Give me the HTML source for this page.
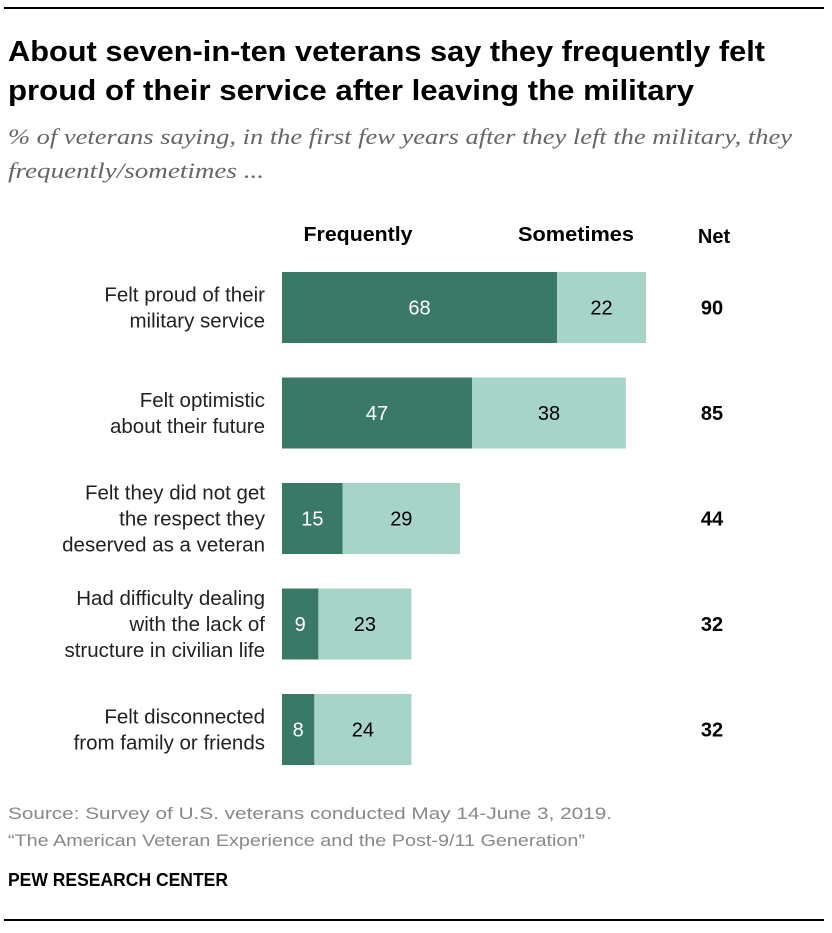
<!DOCTYPE html>
<html><head><meta charset="utf-8"><style>
body{margin:0;background:#fff;}
svg text{font-family:"Liberation Sans",sans-serif;}
</style></head><body>
<svg width="832" height="928" viewBox="0 0 832 928" xmlns="http://www.w3.org/2000/svg">
<rect x="0" y="0" width="832" height="928" fill="#fff"/>
<rect x="4" y="7" width="820" height="2" fill="#000"/>
<text x="8" y="61" font-size="29" font-weight="bold" textLength="757" lengthAdjust="spacingAndGlyphs" style="font-family:'Liberation Sans Narrow','Liberation Sans',sans-serif">About seven-in-ten veterans say they frequently felt</text>
<text x="8" y="100" font-size="29" font-weight="bold" textLength="686" lengthAdjust="spacingAndGlyphs" style="font-family:'Liberation Sans Narrow','Liberation Sans',sans-serif">proud of their service after leaving the military</text>
<text x="8" y="144" font-size="22" font-style="italic" fill="#666" textLength="784" lengthAdjust="spacingAndGlyphs" style="font-family:'Liberation Serif',serif">% of veterans saying, in the first few years after they left the military, they</text>
<text x="8" y="178" font-size="22" font-style="italic" fill="#666" textLength="256" lengthAdjust="spacingAndGlyphs" style="font-family:'Liberation Serif',serif">frequently/sometimes ...</text>
<text x="358" y="241" font-size="20" font-weight="bold" text-anchor="middle" textLength="109" lengthAdjust="spacingAndGlyphs">Frequently</text>
<text x="576" y="241" font-size="20" font-weight="bold" text-anchor="middle" textLength="116" lengthAdjust="spacingAndGlyphs">Sometimes</text>
<text x="714" y="243" font-size="20" font-weight="bold" text-anchor="middle">Net</text>
<g id="bars"></g>
<text x="8" y="819" font-size="17" fill="#888" textLength="604" lengthAdjust="spacingAndGlyphs">Source: Survey of U.S. veterans conducted May 14-June 3, 2019.</text>
<text x="8" y="846" font-size="17" fill="#888" textLength="577" lengthAdjust="spacingAndGlyphs">“The American Veteran Experience and the Post-9/11 Generation”</text>
<text x="8" y="886" font-size="18" font-weight="bold" textLength="220" lengthAdjust="spacingAndGlyphs">PEW RESEARCH CENTER</text>
<rect x="4" y="919" width="820" height="2" fill="#000"/>
</svg>
<script>
const categories = [
  ["Felt proud of their","military service"],
  ["Felt optimistic","about their future"],
  ["Felt they did not get","the respect they","deserved as a veteran"],
  ["Had difficulty dealing","with the lack of","structure in civilian life"],
  ["Felt disconnected","from family or friends"]
];
const frequently = [68, 47, 15, 9, 8];
const sometimes = [22, 38, 29, 23, 24];
const net = [90, 85, 44, 32, 32];

const NS = "http://www.w3.org/2000/svg";
const g = document.getElementById("bars");
const x0 = 282, scale = 4.045;
const xs = v => v * scale;
const rowTop = i => 272 + i * 105.5;
const barH = 71;
function mk(tag, attrs){const e=document.createElementNS(NS,tag);for(const k in attrs)e.setAttribute(k,attrs[k]);g.appendChild(e);return e;}
categories.forEach((lines, i) => {
  const y = rowTop(i), cy = y + barH/2;
  const f = mk("rect",{x:x0,y:y,width:xs(frequently[i]),height:barH,fill:"#3a7868"});
  
  
  const s = mk("rect",{x:x0+xs(frequently[i]),y:y,width:xs(sometimes[i]),height:barH,fill:"#a6d4c9"});
  
  
  const ft = mk("text",{x:x0+xs(frequently[i])/2,y:cy+7,"font-size":20,fill:"#fff","text-anchor":"middle"});
  ft.textContent = frequently[i];
  
  
  const st = mk("text",{x:x0+xs(frequently[i])+xs(sometimes[i])/2,y:cy+7,"font-size":20,fill:"#000","text-anchor":"middle"});
  st.textContent = sometimes[i];
  
  
  const nt = mk("text",{x:712,y:cy+7,"font-size":20,"font-weight":"bold","text-anchor":"middle"});
  nt.textContent = net[i];
  
  
  const lh = 26, start = cy + 7 - (lines.length-1)*lh/2;
  lines.forEach((ln, j) => {
    const t = mk("text",{x:265,y:start+j*lh,"font-size":20.5,"text-anchor":"end",fill:"#222"});
    t.textContent = ln;
    
    
  });
});
</script>
</body></html>
